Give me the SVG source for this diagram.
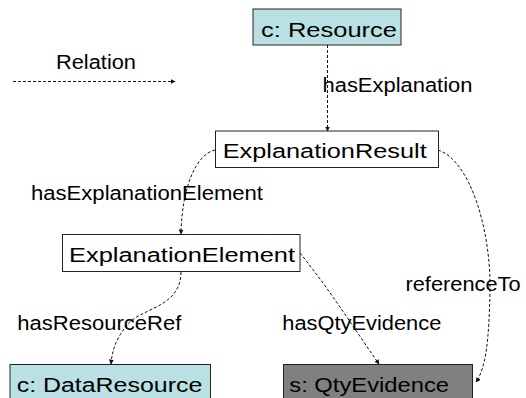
<svg xmlns="http://www.w3.org/2000/svg" width="526" height="398" viewBox="0 0 526 398">
<defs>
<style>
.box{stroke:#222;stroke-width:1}
.t{font-family:"Liberation Sans",Arial,sans-serif;font-size:20px;fill:#000}
.c{fill:none;stroke:#111;stroke-width:1;stroke-dasharray:3 2}
</style>
<marker id="ah" viewBox="0 0 10 10" refX="9" refY="5" markerWidth="5" markerHeight="5" orient="auto" markerUnits="userSpaceOnUse">
<path d="M0,0 L10,5 L0,10 z" fill="#111"/>
</marker>
</defs>
<rect width="526" height="398" fill="#fff"/>
<g id="legend">
<text class="t" x="56" y="69" textLength="80" lengthAdjust="spacingAndGlyphs">Relation</text>
<line class="c" x1="13" y1="81.5" x2="175" y2="81.5" marker-end="url(#ah)"/>
</g>
<g id="connectors">
<path class="c" d="M327.5,45 L327.5,131" marker-end="url(#ah)"/>
<path class="c" d="M215,150 C197,154 182,185 181,234" marker-end="url(#ah)"/>
<path class="c" d="M438,150 C470,160 491,230 490,290 C489,340 486,368 476,382" marker-end="url(#ah)"/>
<path class="c" d="M181,272 C181,308 140,308 127,325 C115,340 112,352 111,364" marker-end="url(#ah)"/>
<path class="c" d="M300,253 C330,290 355,330 379,364" marker-end="url(#ah)"/>
</g>
<g id="labels">
<text class="t" x="322.5" y="92.3" textLength="150" lengthAdjust="spacingAndGlyphs">hasExplanation</text>
<text class="t" x="31" y="200" textLength="232" lengthAdjust="spacingAndGlyphs">hasExplanationElement</text>
<text class="t" x="405.5" y="290.7" textLength="115" lengthAdjust="spacingAndGlyphs">referenceTo</text>
<text class="t" x="17.3" y="330" textLength="164" lengthAdjust="spacingAndGlyphs">hasResourceRef</text>
<text class="t" x="282.3" y="330" textLength="159" lengthAdjust="spacingAndGlyphs">hasQtyEvidence</text>
</g>
<g id="resource">
<rect class="box" x="253" y="9" width="148" height="36" fill="#b9e1e3"/>
<text class="t" x="261" y="36.7" textLength="136" lengthAdjust="spacingAndGlyphs">c: Resource</text>
</g>
<g id="explanationResult">
<rect class="box" x="215.5" y="131" width="223" height="36.5" fill="#fff"/>
<text class="t" x="222.7" y="158.3" textLength="204" lengthAdjust="spacingAndGlyphs">ExplanationResult</text>
</g>
<g id="explanationElement">
<rect class="box" x="62.5" y="234.5" width="237.5" height="37" fill="#fff"/>
<text class="t" x="69" y="262.3" textLength="226" lengthAdjust="spacingAndGlyphs">ExplanationElement</text>
</g>
<g id="dataResource">
<rect class="box" x="10" y="364.5" width="200.5" height="40" fill="#b9e1e3"/>
<text class="t" x="16.7" y="391.7" textLength="185.6" lengthAdjust="spacingAndGlyphs">c: DataResource</text>
</g>
<g id="qtyEvidence">
<rect class="box" x="283.5" y="364.5" width="189" height="40" fill="#808080"/>
<text class="t" x="289.3" y="391.7" textLength="159.7" lengthAdjust="spacingAndGlyphs">s: QtyEvidence</text>
</g>
</svg>
